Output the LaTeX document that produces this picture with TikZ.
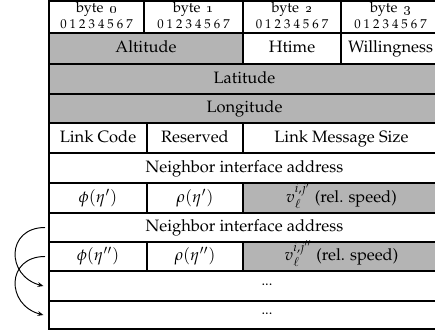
\documentclass[tikz,border=0pt]{standalone}
\usepackage[T1]{fontenc}
\usepackage{mathpazo}
\usetikzlibrary{arrows.meta}
\definecolor{cellgray}{HTML}{B4B4B4}
\tikzset{
  cellbox/.style={draw=black, line width=1pt, inner sep=0pt, outer sep=0pt,
    text height=1.55ex, text depth=0.45ex, font=\fontsize{10.3}{12}\selectfont},
  hdrbox/.style={draw=black, line width=1pt, inner sep=0pt, outer sep=0pt, align=center},
  jump/.style={line width=0.6pt, -{Stealth[length=3.6pt,width=3pt]}, out=180, in=165, looseness=1.7}
}
\newcommand{\pkcell}[7]{%
  \node[cellbox, fill=#6, minimum width={(#4-#2)*0.625pt}, minimum height={(#5-#3)*0.625pt}]
    (#1) at ({(#2+#4)/2},{(#3+#5)/2}) {#7};}
\newcommand{\pkdg}{\hspace{1.9pt}}
\newcommand{\pkhdr}[5]{%
  \node[hdrbox, minimum width={(#4-#2)*0.625pt}, minimum height={(33-1)*0.625pt}]
    (#1) at ({(#2+#4)/2},17) {};
  \node[font=\small, inner sep=0pt] (#1t) at ({(#2+#4)/2},9) {byte \,\oldstylenums{#5}};
  \node[font=\footnotesize, inner sep=0pt] (#1d) at ({(#2+#4)/2},24.5) {0\pkdg1\pkdg2\pkdg3\pkdg4\pkdg5\pkdg6\pkdg7};}
\begin{document}
\begin{tikzpicture}[x=0.625pt, y=-0.625pt]
\useasboundingbox (0,0) rectangle (435,330);
\pkhdr{h0}{49}{1}{144}{0}
\pkhdr{h1}{144}{1}{243}{1}
\pkhdr{h2}{243}{1}{341}{2}
\pkhdr{h3}{341}{1}{440}{3}
\pkcell{alt}{49}{33}{243}{64}{cellgray}{Altitude}
\pkcell{ht}{243}{33}{341}{64}{white}{Htime}
\pkcell{wil}{341}{33}{440}{64}{white}{Willingness}
\pkcell{lat}{49}{64}{440}{94}{cellgray}{Latitude}
\pkcell{lon}{49}{94}{440}{123}{cellgray}{Longitude}
\pkcell{lc}{49}{123}{147}{153}{white}{Link Code}
\pkcell{res}{147}{123}{243}{153}{white}{Reserved}
\pkcell{lms}{243}{123}{440}{153}{white}{Link Message Size}
\pkcell{na1}{49}{153}{440}{183}{white}{Neighbor interface address}
\pkcell{phi1}{49}{183}{147}{213}{white}{$\phi(\eta')$}
\pkcell{rho1}{147}{183}{243}{213}{white}{$\rho(\eta')$}
\pkcell{v1}{243}{183}{440}{213}{cellgray}{$v_\ell^{i,j'}$ (rel. speed)}
\pkcell{na2}{49}{213}{440}{242}{white}{Neighbor interface address}
\pkcell{phi2}{49}{242}{147}{271}{white}{$\phi(\eta'')$}
\pkcell{rho2}{147}{242}{243}{271}{white}{$\rho(\eta'')$}
\pkcell{v2}{243}{242}{440}{271}{cellgray}{$v_\ell^{i,j''}$ (rel. speed)}
\pkcell{d1}{49}{271}{440}{301}{white}{}
\pkcell{d2}{49}{301}{440}{329}{white}{}
\node[font=\small, inner sep=0pt] (d1t) at (267,285) {...};
\node[font=\small, inner sep=0pt] (d2t) at (267,314) {...};
\coordinate (s1) at ([xshift=-2.5pt]na2.west);
\coordinate (s2) at ([xshift=-2.5pt]phi2.west);
\coordinate (e1) at ([xshift=-3.5pt]d1.west);
\coordinate (e2) at ([xshift=-3.5pt]d2.west);
\draw[jump] (s1) to (e1);
\draw[jump] (s2) to (e2);
\end{tikzpicture}
\end{document}
